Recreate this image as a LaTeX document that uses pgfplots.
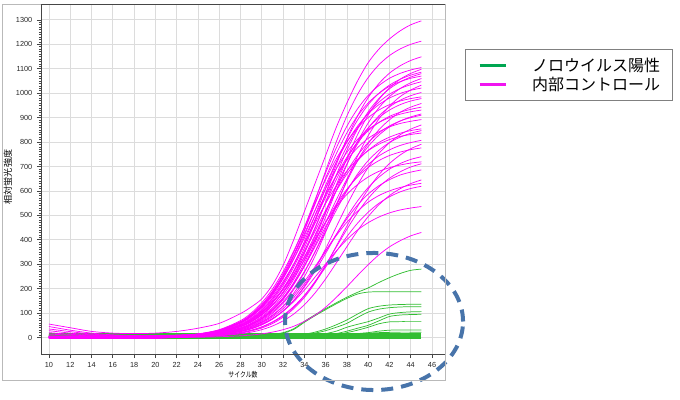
\documentclass[border=0pt]{standalone}
\usepackage{fontspec}
\setmainfont{Liberation Sans}
\newfontfamily\jp{Noto Sans CJK JP}
\usepackage{graphicx}
\usepackage{pgfplots}
\usepackage{pgfplotstable}
\pgfplotsset{compat=1.18}
\definecolor{mag}{RGB}{255,0,255}
\definecolor{grn}{RGB}{50,190,50}
\definecolor{legG}{RGB}{0,166,81}
\definecolor{legM}{RGB}{240,20,240}
\definecolor{ell}{RGB}{72,116,170}
\definecolor{gridc}{RGB}{220,220,220}
\definecolor{axc}{RGB}{70,70,70}

\pgfplotstableread{
c 10 12 14 16 18 20 22 24 26 28 29 30 31 32 33 34 35 36 37 38 39 40 41 42 43 44 45
m1 55 40 25 18 16 18 25 38 58 98 125 158 215 295 400 515 630 745 860 960 1050 1125 1180 1222 1255 1280 1296
m2 45 30 18 11 8 8 10 15 32 69 100 142 198 269 354 450 550 646 731 802 858 900 931 953 968 978 985
m3 3 3 3 3 3 3 8 14 31 65 94 134 187 254 335 425 520 610 691 758 811 851 880 900 914 924 931
m4 5 5 5 5 5 5 9 13 29 63 90 128 179 243 321 407 498 584 662 726 777 815 842 862 876 885 892
m5 1 1 1 1 1 1 7 13 27 59 85 121 168 229 301 383 467 549 621 682 729 765 791 810 823 831 837
m6 -2 -2 -2 -2 -2 -2 4 11 24 50 73 104 144 196 259 329 401 471 534 586 626 657 680 695 706 714 719
m7 35 24 14 9 7 7 9 14 30 64 94 134 189 260 349 451 563 674 776 865 936 991 1031 1061 1081 1095 1105
m8 14 10 7 5 4 5 8 13 29 62 91 130 183 252 338 437 545 653 752 838 907 960 999 1028 1047 1061 1070
m9 4 4 4 4 4 4 8 13 28 60 87 124 175 241 322 417 520 623 718 799 865 916 953 980 999 1012 1021
m10 2 2 2 2 2 2 7 12 26 55 80 114 161 222 298 385 480 575 662 738 799 846 880 905 922 934 943
m11 0 0 0 0 0 0 5 11 23 50 72 104 146 201 270 349 435 521 600 669 724 766 798 820 836 847 854
m12 -3 -3 -3 -3 -3 -3 3 10 21 45 66 94 133 183 245 317 395 473 545 607 657 696 724 745 759 769 776
m13 28 18 11 7 6 6 8 12 27 59 86 124 176 245 333 439 558 682 801 907 995 1064 1116 1154 1181 1200 1213
m14 6 6 6 6 6 6 8 11 24 53 77 111 158 220 299 393 500 610 717 812 890 953 999 1033 1057 1074 1086
m15 3 3 3 3 3 3 7 11 23 51 74 107 152 212 288 379 482 588 691 782 858 918 963 996 1019 1035 1047
m16 1 1 1 1 1 1 5 10 22 47 69 100 142 198 269 354 450 550 646 731 802 858 900 931 953 968 978
m17 -1 -1 -1 -1 -1 -1 4 9 20 44 64 93 132 184 250 330 419 511 601 680 746 798 837 866 886 900 910
m18 2 2 2 2 2 2 5 8 18 39 57 82 117 163 222 292 371 454 533 603 662 708 743 768 786 798 807
m19 -2 -2 -2 -2 -2 -2 2 6 14 31 45 64 92 128 173 229 290 355 417 472 517 554 581 600 614 624 631
m20 0 0 0 0 0 0 2 5 12 26 38 55 78 108 147 194 247 301 354 401 440 470 493 510 522 530 536
m21 20 13 9 6 5 5 7 10 21 46 68 98 141 198 273 366 474 590 707 814 907 982 1039 1082 1112 1134 1149
m22 4 4 4 4 4 4 6 9 20 44 64 92 132 186 257 344 445 555 665 766 853 924 978 1018 1046 1066 1080
m23 2 2 2 2 2 2 5 8 19 40 59 86 123 173 238 319 413 515 617 711 792 857 907 944 971 990 1003
m24 5 5 5 5 5 5 6 8 17 37 54 78 112 158 218 291 377 470 563 649 722 782 828 862 886 903 915
m25 -1 -1 -1 -1 -1 -1 3 7 16 34 50 72 104 146 201 270 349 435 521 600 669 724 766 798 820 836 847
m26 1 1 1 1 1 1 3 6 13 28 40 59 84 118 163 219 283 353 422 486 542 587 621 646 665 677 686
m27 3 3 3 3 3 3 5 8 17 37 54 78 113 161 225 305 402 511 624 733 830 911 974 1022 1057 1081 1098
m28 0 0 0 0 0 0 3 7 16 35 52 76 109 155 217 294 388 493 602 707 801 878 940 986 1019 1043 1060
m29 -2 -2 -2 -2 -2 -2 2 7 15 32 47 68 99 140 196 266 351 446 544 639 724 794 850 891 922 943 958
m30 2 2 2 2 2 2 3 5 11 25 36 53 76 109 151 206 271 344 421 494 559 614 656 689 712 729 740
m31 -3 -3 -3 -3 -3 -3 0 4 9 21 30 44 64 91 127 172 227 288 352 413 468 513 549 576 596 610 619
m32 4 4 4 4 4 4 5 6 13 29 42 62 89 128 181 249 333 431 538 644 742 826 894 947 986 1013 1033
m33 1 1 1 1 1 1 3 5 11 24 35 52 75 108 152 210 281 363 453 542 624 696 753 797 830 853 870
m34 -1 -1 -1 -1 -1 -1 1 4 9 20 29 42 62 88 124 171 229 297 370 443 511 569 616 652 678 698 711
m35 2 2 2 2 2 2 3 4 8 18 27 39 57 83 118 164 223 294 374 456 536 607 666 712 747 773 791
m36 0 0 0 0 0 0 1 3 7 15 22 32 47 68 96 134 182 240 305 372 437 495 543 581 609 630 645
m37 -2 -2 -2 -2 -2 -2 0 1 3 7 10 15 22 32 46 66 91 124 164 208 254 298 338 371 396 416 430
}\magraw
\pgfplotstabletranspose[colnames from=c]{\magdata}{\magraw}

\pgfplotstableread{
c 10 14 18 22 26 30 31 32 33 34 35 36 37 38 39 40 41 42 43 44 45
g1 12 14 16 14 11 10 13 20 36 66 93 118 142 165 185 203 225 245 262 275 280
g2 9 11 13 12 10 9 12 18 33 62 89 114 138 160 178 186 187 187 187 187 187
g3 8 9 10 9 9 9 10 11 12 14 22 35 52 72 96 118 128 133 135 136 136
g4 6 7 8 8 8 8 9 10 11 12 18 28 42 58 82 104 116 122 125 126 126
g5 5 6 7 7 7 7 7 8 8 9 10 16 26 42 54 65 80 96 102 105 106
g6 5 6 6 6 6 6 6 7 7 8 9 10 16 26 38 50 68 86 92 94 95
g7 4 5 5 5 5 5 5 5 6 6 7 8 12 20 30 42 56 64 65 65 65
g8 3 4 4 4 4 4 4 4 4 5 6 7 8 12 16 20 26 30 31 31 31
g9 2 3 4 4 4 5 5 6 6 7 8 10 12 14 16 18 20 21 22 22 22
}\grnraw
\pgfplotstabletranspose[colnames from=c]{\grndata}{\grnraw}

\pgfplotstableread{
c b1 b2 b3 b4 b5 b6 b7 b8
10 -2 1 4 7 10 13 16 19
45 -2 1 4 7 10 13 16 19
}\banddata

\pgfplotsset{
  magl/.style={mag, line width=0.55pt, smooth, forget plot},
  grl/.style={grn, line width=0.55pt, smooth, forget plot},
}

\begin{document}
\begin{tikzpicture}
\begin{axis}[
  at={(0,0)}, anchor=south west,
  scale only axis, width=303pt, height=261.75pt,
  xmin=9.25, xmax=47.22, ymin=-67.5, ymax=1361,
  xtick={10,12,...,46}, ytick={0,100,...,1300},
  minor y tick num=9,
  tick align=outside, tick pos=left,
  major tick length=3pt, minor tick length=1.5pt,
  every tick/.style={axc, line width=0.5pt},
  grid=major, major grid style={gridc, line width=0.6pt},
  axis line style={draw=none},
  clip=false,
  /pgf/number format/assume math mode=true,
  /pgf/number format/1000 sep={},
  tick label style={font=\fontsize{5.5}{6}\selectfont, text=black!85},
  xlabel={\scalebox{0.8}[1]{\jp サイクル数}},
  xlabel style={font=\fontsize{5.5}{6}\selectfont, at={(axis description cs:0.5,-0.0602)}, anchor=center},
  ylabel={\jp 相対蛍光強度},
  ylabel style={font=\fontsize{6.8}{7}\selectfont, at={(axis description cs:-0.0817,0.507)}, anchor=center},
  legend style={at={(1.0495,0.874)}, anchor=north west, draw=gray, line width=0.6pt, fill=white,
    inner xsep=9.5pt, inner ysep=6.6pt, row sep=2.6pt,
    font=\jp\fontsize{12}{13}\selectfont,
    nodes={inner xsep=0pt, inner ysep=0pt, text height=10.2pt, text depth=1pt},
    /tikz/every odd column/.append style={column sep=18.75pt}},
  legend cell align=left,
  legend image code/.code={\draw[#1, line width=2.2pt] (0pt,0pt) -- (19.5pt,0pt);},
]
\pgfplotsinvokeforeach{1,...,8}{\addplot[grn, line width=0.55pt, forget plot] table[x=c, y=b#1] {\banddata};}
\pgfplotsinvokeforeach{1,...,9}{\addplot[grl] table[x=colnames, y=g#1] {\grndata};}
\pgfplotsinvokeforeach{1,...,37}{\addplot[magl] table[x=colnames, y=m#1] {\magdata};}
\addlegendimage{legG}
\addlegendentry{ノロウイルス陽性}
\addlegendimage{legM}
\addlegendentry{内部コントロール}
\draw[ell, line width=3pt, dash pattern=on 9pt off 6pt] (axis cs:40.55,65.5) ellipse [x radius=66.75pt, y radius=51.4pt];
\end{axis}
\draw[gray!55, line width=0.75pt] (-28.5pt,-19.5pt) rectangle (303pt,261.75pt);
\draw[axc, line width=0.75pt] (303pt,261.75pt) -- (0pt,261.75pt) -- (0pt,0pt) -- (303pt,0pt);
\pgfresetboundingbox
\path[use as bounding box] (-30.75pt,-33.75pt) rectangle (479.25pt,265.5pt);
\end{tikzpicture}
\end{document}
